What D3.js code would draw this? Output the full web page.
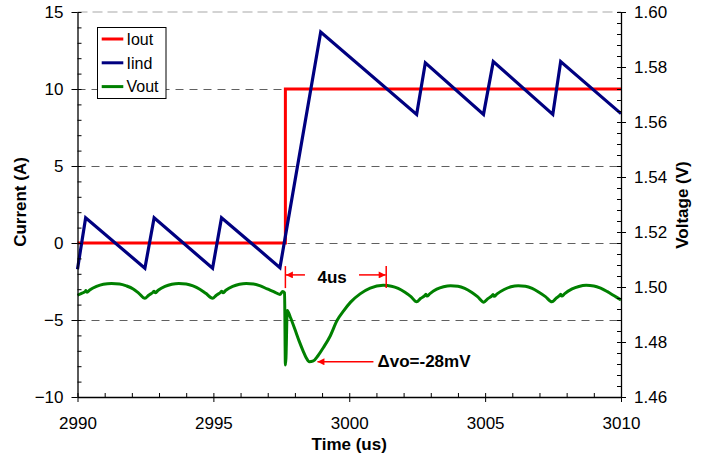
<!DOCTYPE html>
<html>
<head>
<meta charset="utf-8">
<script src="https://cdn.jsdelivr.net/npm/d3@7"></script>
<style>
  html, body { margin: 0; padding: 0; background: #fff; }
  svg { display: block; font-family: "Liberation Sans", Arial, sans-serif; }
</style>
</head>
<body>
<svg id="chart" width="717" height="460"></svg>
<script>
// ---------------- DATA ----------------
const timeTicks = [2990, 2995, 3000, 3005, 3010];
const currentTicks = [-10, -5, 0, 5, 10, 15];
const voltageTicks = [1.46, 1.48, 1.50, 1.52, 1.54, 1.56, 1.58, 1.60];
const gridCurrents = [10, 5, 0, -5];
const seriesNames = ["Iout", "Iind", "Vout"];
const seriesColors = ["#ff0000", "#000080", "#008000"];

// Iout (A): [time us, current]
const iout = [
  [2990, 0], [2997.65, 0], [2997.65, 10], [3010, 10]
];

// Iind (A)
const iind = [
  [2990.00, -1.70], [2990.30, 1.64], [2992.48, -1.64], [2992.82, 1.64],
  [2994.97, -1.64], [2995.30, 1.64], [2997.45, -1.60], [2998.95, 13.70],
  [3002.48, 8.35], [3002.80, 11.70], [3004.94, 8.35], [3005.30, 11.78],
  [3007.49, 8.35], [3007.78, 11.78], [3010.00, 8.40]
];

// Vout (V)
const vout = [
  [2990.00, 1.4970], [2990.15, 1.4977], [2990.28, 1.4983], [2990.31, 1.4987],
  [2990.35, 1.4981], [2990.45, 1.4989], [2990.70, 1.5002], [2990.95, 1.5010],
  [2991.25, 1.5013], [2991.55, 1.5011], [2991.80, 1.5004], [2992.05, 1.4993],
  [2992.25, 1.4978], [2992.48, 1.4959],
  [2992.62, 1.4970], [2992.78, 1.4981], [2992.82, 1.4985], [2992.86, 1.4979],
  [2992.97, 1.4988], [2993.22, 1.5002], [2993.47, 1.5010], [2993.73, 1.5013],
  [2994.00, 1.5011], [2994.25, 1.5004], [2994.50, 1.4992], [2994.72, 1.4977],
  [2994.97, 1.4959],
  [2995.11, 1.4970], [2995.27, 1.4981], [2995.31, 1.4985], [2995.35, 1.4979],
  [2995.46, 1.4988], [2995.71, 1.5002], [2995.96, 1.5010], [2996.21, 1.5013],
  [2996.48, 1.5011], [2996.73, 1.5004], [2996.98, 1.4993], [2997.22, 1.4983],
  [2997.45, 1.4973], [2997.55, 1.4984], [2997.62, 1.4979],
  [2997.65, 1.4716], [2997.67, 1.4740], [2997.72, 1.4915], [2997.84, 1.4888],
  [2998.00, 1.4846], [2998.15, 1.4805], [2998.30, 1.4768], [2998.42, 1.4742],
  [2998.53, 1.4728], [2998.68, 1.4731], [2998.85, 1.4750], [2999.05, 1.4780],
  [2999.30, 1.4822], [2999.55, 1.4878], [2999.80, 1.4914], [3000.05, 1.4945],
  [3000.40, 1.4975], [3000.77, 1.4996], [3001.25, 1.5006],
  [3001.55, 1.5003], [3001.80, 1.4995], [3002.05, 1.4981], [3002.27, 1.4965],
  [3002.48, 1.4946],
  [3002.62, 1.4958], [3002.78, 1.4969], [3002.82, 1.4974], [3002.86, 1.4967],
  [3002.97, 1.4976], [3003.22, 1.4992], [3003.47, 1.5001], [3003.73, 1.5005],
  [3004.00, 1.5003], [3004.25, 1.4995], [3004.50, 1.4981], [3004.72, 1.4965],
  [3004.95, 1.4945],
  [3005.09, 1.4957], [3005.25, 1.4968], [3005.29, 1.4973], [3005.33, 1.4966],
  [3005.44, 1.4975], [3005.70, 1.4991], [3005.95, 1.5001], [3006.22, 1.5005],
  [3006.48, 1.5003], [3006.73, 1.4995], [3006.98, 1.4981], [3007.22, 1.4965],
  [3007.46, 1.4946],
  [3007.60, 1.4958], [3007.74, 1.4969], [3007.78, 1.4974], [3007.82, 1.4967],
  [3007.93, 1.4976], [3008.20, 1.4993], [3008.45, 1.5002], [3008.72, 1.5006],
  [3009.00, 1.5004], [3009.25, 1.4996], [3009.50, 1.4983], [3009.75, 1.4968],
  [3010.00, 1.4953]
];

// annotations (time us, voltage V)
const dtStart = 2997.65, dtEnd = 3001.36;
const dtLabel = "4us";
const dvTip = [2998.83, 1.4728];
const dvLabel = "\u0394vo=-28mV";

// ---------------- CHART ----------------
const svg = d3.select("#chart");
const L = 77.5, R = 621, T = 12, B = 397;

const x = d3.scaleLinear().domain([2990, 3010]).range([L, R]);
const yL = d3.scaleLinear().domain([-10, 15]).range([B, T]);
const yR = d3.scaleLinear().domain([1.46, 1.60]).range([B, T]);

svg.append("rect").attr("width", 717).attr("height", 460).attr("fill", "#fff");

// gridlines
svg.append("line")
  .attr("x1", L).attr("x2", R).attr("y1", yL(15)).attr("y2", yL(15))
  .attr("stroke", "#a8a8a8").attr("stroke-width", 1.2).attr("stroke-dasharray", "10,5");
svg.append("g").selectAll("line").data(gridCurrents).join("line")
  .attr("x1", L).attr("x2", R)
  .attr("y1", d => Math.round(yL(d)) + 0.5).attr("y2", d => Math.round(yL(d)) + 0.5)
  .attr("stroke", "#606060").attr("stroke-width", 1).attr("stroke-dasharray", "8,6");

// series
const lineL = d3.line().x(d => x(d[0])).y(d => yL(d[1]));
const lineR = d3.line().x(d => x(d[0])).y(d => yR(d[1])).curve(d3.curveMonotoneX);

svg.append("path").datum(iout).attr("d", lineL)
  .attr("fill", "none").attr("stroke", seriesColors[0]).attr("stroke-width", 3);
svg.append("path").datum(iind).attr("d", lineL)
  .attr("fill", "none").attr("stroke", seriesColors[1]).attr("stroke-width", 3.2)
  .attr("stroke-linejoin", "miter");
svg.append("path").datum(vout).attr("d", lineR)
  .attr("fill", "none").attr("stroke", seriesColors[2]).attr("stroke-width", 3)
  .attr("stroke-linejoin", "round");

// axes
const tickFont = g => g.selectAll("text")
  .attr("font-size", 17).attr("fill", "#000")
  .attr("font-family", "'Liberation Sans', Arial, sans-serif");

const gL = svg.append("g").attr("transform", `translate(${L},0)`)
  .call(d3.axisLeft(yL).tickValues(currentTicks).tickSize(6).tickSizeOuter(0).tickPadding(8));
gL.call(tickFont);
svg.append("g").attr("transform", `translate(${L},0)`)
  .call(d3.axisRight(yL).tickValues(d3.range(-10, 15.01, 1)).tickSize(4).tickFormat(""))
  .call(g => g.select(".domain").remove());

const gR = svg.append("g").attr("transform", `translate(${R},0)`)
  .call(d3.axisRight(yR).tickValues(voltageTicks).tickSize(5).tickSizeOuter(0).tickPadding(8)
    .tickFormat(d3.format(".2f")));
gR.call(tickFont);
svg.append("g").attr("transform", `translate(${R},0)`)
  .call(d3.axisLeft(yR).tickValues(d3.range(0, 36).map(i => 1.46 + i * 0.004)).tickSize(4).tickFormat(""))
  .call(g => g.select(".domain").remove());

const gB = svg.append("g").attr("transform", `translate(0,${B})`)
  .call(d3.axisBottom(x).tickValues(timeTicks).tickSize(5).tickSizeOuter(0).tickPadding(15)
    .tickFormat(d3.format("d")));
gB.call(tickFont);
svg.append("g").attr("transform", `translate(0,${B})`)
  .call(d3.axisTop(x).tickValues(d3.range(2990, 3010.01, 1)).tickSize(4).tickFormat(""))
  .call(g => g.select(".domain").remove());

svg.selectAll(".domain").attr("stroke", "#000").attr("stroke-width", 1.3);
svg.selectAll(".tick line").attr("stroke", "#000");

// axis titles
svg.append("text").attr("transform", "translate(26,202) rotate(-90)")
  .attr("text-anchor", "middle").attr("font-size", 17).attr("font-weight", "bold")
  .text("Current (A)");
svg.append("text").attr("transform", "translate(688,205) rotate(-90)")
  .attr("text-anchor", "middle").attr("font-size", 17).attr("font-weight", "bold")
  .text("Voltage (V)");
svg.append("text").attr("x", (L + R) / 2).attr("y", 450)
  .attr("text-anchor", "middle").attr("font-size", 17).attr("font-weight", "bold")
  .text("Time (us)");

// legend
const lg = svg.append("g");
lg.append("rect").attr("x", 97.5).attr("y", 27.5).attr("width", 68.5).attr("height", 71)
  .attr("fill", "#fff").attr("stroke", "#000").attr("stroke-width", 1);
seriesNames.forEach((n, i) => {
  const yy = 39 + i * 23.8;
  lg.append("line").attr("x1", 101.7).attr("x2", 123.3).attr("y1", yy).attr("y2", yy)
    .attr("stroke", seriesColors[i]).attr("stroke-width", 3);
  lg.append("text").attr("x", 126.5).attr("y", yy).attr("dy", "0.36em")
    .attr("font-size", 16).text(n);
});

// annotations
const defs = svg.append("defs");
defs.append("marker").attr("id", "arr").attr("viewBox", "0 0 10 10")
  .attr("refX", 10).attr("refY", 5).attr("markerWidth", 9).attr("markerHeight", 7)
  .attr("markerUnits", "userSpaceOnUse").attr("orient", "auto")
  .append("path").attr("d", "M0,0 L10,5 L0,10 Z").attr("fill", "#ff0000");

const red = "#ff0000";
const ay = yR(1.5044);
[dtStart, dtEnd].forEach(t => {
  svg.append("line").attr("x1", x(t)).attr("x2", x(t))
    .attr("y1", yR(1.5076)).attr("y2", yR(1.4996))
    .attr("stroke", red).attr("stroke-width", 1.5);
});
svg.append("line").attr("x1", x(2998.37)).attr("x2", x(dtStart) + 0.5)
  .attr("y1", ay).attr("y2", ay).attr("stroke", red).attr("stroke-width", 1.5)
  .attr("marker-end", "url(#arr)");
svg.append("line").attr("x1", x(3000.36)).attr("x2", x(dtEnd) - 0.5)
  .attr("y1", ay).attr("y2", ay).attr("stroke", red).attr("stroke-width", 1.5)
  .attr("marker-end", "url(#arr)");
svg.append("text").attr("x", x(2999.37)).attr("y", yR(1.5016))
  .attr("text-anchor", "middle").attr("font-size", 17).attr("font-weight", "bold")
  .text(dtLabel);

svg.append("line").attr("x1", x(3000.89)).attr("x2", x(dvTip[0]))
  .attr("y1", yR(dvTip[1])).attr("y2", yR(dvTip[1]))
  .attr("stroke", red).attr("stroke-width", 1.5).attr("marker-end", "url(#arr)");
svg.append("text").attr("x", x(3001.04)).attr("y", yR(1.4708))
  .attr("font-size", 17).attr("font-weight", "bold").text(dvLabel);
</script>
</body>
</html>
